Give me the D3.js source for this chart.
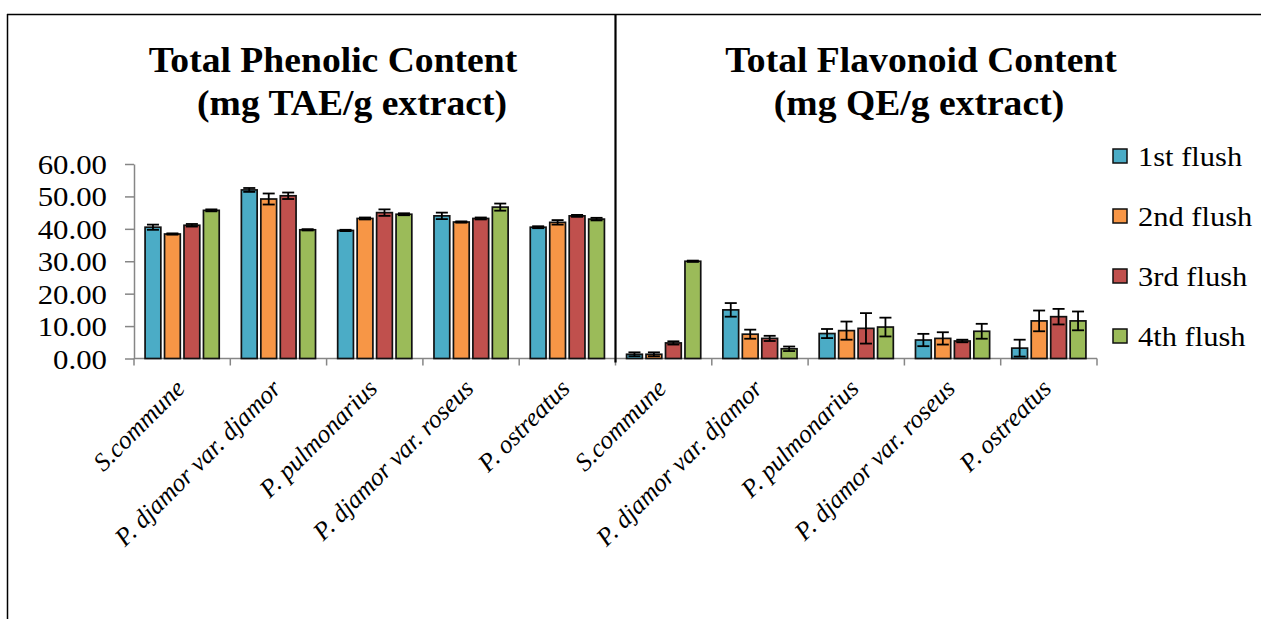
<!DOCTYPE html>
<html>
<head>
<meta charset="utf-8">
<script src="https://cdn.jsdelivr.net/npm/d3@7"></script>
<style>
  html, body { margin: 0; padding: 0; background: #fff; }
  svg { display: block; }
  svg text { font-family: "Liberation Serif", "Times New Roman", serif; }
</style>
</head>
<body>
<svg id="chart" width="1261" height="619"></svg>
<script>
// Mushroom strains, measured over four flushes
const categories = ["S.commune", "P. djamor var. djamor", "P. pulmonarius", "P. djamor var. roseus", "P. ostreatus"];
const seriesNames = ["1st flush", "2nd flush", "3rd flush", "4th flush"];
const seriesColors = ["#4BACC6", "#F79646", "#C0504D", "#9BBB59"];

// Total phenolic content (mg TAE/g extract), one row per strain, one value per flush
const phenolicValues = [
  [40.5, 38.4, 41.1, 45.7],
  [52.0, 49.2, 50.2, 39.7],
  [39.5, 43.2, 45.0, 44.5],
  [44.0, 42.1, 43.2, 46.7],
  [40.5, 42.0, 44.0, 43.0]
];
const phenolicErrors = [
  [0.8, 0.2, 0.4, 0.3],
  [0.6, 1.7, 1.0, 0.2],
  [0.2, 0.3, 1.0, 0.3],
  [1.0, 0.2, 0.3, 1.1],
  [0.3, 0.7, 0.3, 0.4]
];

// Total flavonoid content (mg QE/g extract)
const flavonoidValues = [
  [1.3, 1.3, 4.8, 30.0],
  [15.0, 7.5, 6.2, 3.0],
  [7.7, 8.6, 9.3, 9.7],
  [5.7, 6.2, 5.4, 8.4],
  [3.2, 11.6, 12.9, 11.6]
];
const flavonoidErrors = [
  [0.6, 0.6, 0.5, 0.2],
  [2.1, 1.4, 0.8, 0.7],
  [1.4, 2.8, 4.7, 2.9],
  [1.9, 1.9, 0.4, 2.3],
  [2.6, 3.2, 2.4, 2.9]
];

const yTicks = [0, 10, 20, 30, 40, 50, 60];
const panelTitles = [
  ["Total Phenolic Content", "(mg TAE/g extract)"],
  ["Total Flavonoid Content", "(mg QE/g extract)"]
];

// Both panels share one category axis: five strains for each measurement
const panels = [
  { values: phenolicValues, errors: phenolicErrors },
  { values: flavonoidValues, errors: flavonoidErrors }
];
const rows = [];
panels.forEach((p, pi) => {
  categories.forEach((c, ci) => {
    rows.push({
      key: pi + "|" + ci,
      label: c,
      bars: seriesNames.map((s, si) => ({ series: s, si, value: p.values[ci][si], err: p.errors[ci][si] }))
    });
  });
});

const FONT = "Liberation Serif";
const svg = d3.select("#chart");
const plot = { left: 134, right: 1097, top: 164, bottom: 358.5 };

const pad = 0.23;
const x0 = d3.scaleBand()
  .domain(rows.map(r => r.key))
  .range([plot.left, plot.right])
  .paddingInner(pad)
  .paddingOuter(pad / 2);
const x1 = d3.scaleBand()
  .domain(seriesNames)
  .range([0, x0.bandwidth()])
  .paddingInner(0.19);
const y = d3.scaleLinear().domain([0, 60]).range([plot.bottom, plot.top]);
const color = d3.scaleOrdinal().domain(seriesNames).range(seriesColors);

const axisGray = "#868686";

// Outer frame (top and left edges)
svg.append("line").attr("x1", 7).attr("x2", 1261).attr("y1", 14.5).attr("y2", 14.5)
  .attr("stroke", "#000").attr("stroke-width", 1.5);
svg.append("line").attr("x1", 7.5).attr("x2", 7.5).attr("y1", 14).attr("y2", 619)
  .attr("stroke", "#000").attr("stroke-width", 1.5);

// Titles
const titlePos = [
  [{ cx: 333, y: 72 }, { cx: 352, y: 115 }],
  [{ cx: 921, y: 72 }, { cx: 919, y: 115 }]
];
panelTitles.forEach((lines, pi) => {
  lines.forEach((t, li) => {
    const p = titlePos[pi][li];
    svg.append("text")
      .attr("transform", `translate(${p.cx},${p.y}) scale(1.075,1)`)
      .attr("text-anchor", "middle")
      .attr("font-family", FONT)
      .attr("font-weight", "bold")
      .attr("font-size", 35)
      .attr("fill", "#000")
      .text(t);
  });
});

// Y axis
const yAxis = svg.append("g")
  .attr("transform", `translate(${plot.left},0)`)
  .call(d3.axisLeft(y).tickValues(yTicks).tickFormat(d3.format(".2f")).tickSize(9).tickSizeOuter(0));
yAxis.select(".domain").attr("stroke", axisGray).attr("stroke-width", 1.5);
yAxis.selectAll(".tick line").attr("stroke", axisGray).attr("stroke-width", 1.5);
yAxis.selectAll(".tick text")
  .attr("x", null).attr("dy", null)
  .attr("transform", "translate(-27,9.5) scale(1.1,1)")
  .attr("font-size", 28)
  .attr("font-family", FONT)
  .attr("fill", "#000");

// X axis line and category boundary ticks
svg.append("line")
  .attr("x1", plot.left).attr("x2", plot.right)
  .attr("y1", plot.bottom).attr("y2", plot.bottom)
  .attr("stroke", axisGray).attr("stroke-width", 1.5);
const step = x0.step();
const boundaries = rows.map(r => x0(r.key) - step * pad / 2).concat([plot.right]);
svg.append("g").selectAll("line")
  .data(boundaries)
  .join("line")
  .attr("x1", d => d).attr("x2", d => d)
  .attr("y1", plot.bottom).attr("y2", plot.bottom + 7)
  .attr("stroke", axisGray).attr("stroke-width", 1.5);

// Divider between the two measurements
const divX = boundaries[categories.length];
svg.append("line")
  .attr("x1", divX).attr("x2", divX)
  .attr("y1", 14).attr("y2", plot.bottom + 4)
  .attr("stroke", "#000").attr("stroke-width", 2.2);

// Bars
const groups = svg.append("g").selectAll("g")
  .data(rows)
  .join("g")
  .attr("transform", d => `translate(${x0(d.key)},0)`);

groups.selectAll("rect")
  .data(d => d.bars)
  .join("rect")
  .attr("x", d => x1(d.series))
  .attr("y", d => y(d.value))
  .attr("width", x1.bandwidth())
  .attr("height", d => y(0) - y(d.value))
  .attr("fill", d => color(d.series))
  .attr("stroke", "#111")
  .attr("stroke-width", 1.7);

// Error bars
const capW = 12;
const eb = groups.selectAll("g.err")
  .data(d => d.bars)
  .join("g")
  .attr("class", "err")
  .attr("stroke", "#000")
  .attr("stroke-width", 1.8);
eb.append("line")
  .attr("x1", d => x1(d.series) + x1.bandwidth() / 2)
  .attr("x2", d => x1(d.series) + x1.bandwidth() / 2)
  .attr("y1", d => y(d.value + d.err))
  .attr("y2", d => y(Math.max(0, d.value - d.err)));
eb.append("line")
  .attr("x1", d => x1(d.series) + x1.bandwidth() / 2 - capW / 2)
  .attr("x2", d => x1(d.series) + x1.bandwidth() / 2 + capW / 2)
  .attr("y1", d => y(d.value + d.err))
  .attr("y2", d => y(d.value + d.err));
eb.append("line")
  .attr("x1", d => x1(d.series) + x1.bandwidth() / 2 - capW / 2)
  .attr("x2", d => x1(d.series) + x1.bandwidth() / 2 + capW / 2)
  .attr("y1", d => y(Math.max(0, d.value - d.err)))
  .attr("y2", d => y(Math.max(0, d.value - d.err)));

// Category labels, slanted
svg.append("g").selectAll("text")
  .data(rows)
  .join("text")
  .attr("transform", d => `translate(${x0(d.key) + x0.bandwidth() / 2 + 4},390) rotate(-45)`)
  .attr("text-anchor", "end")
  .attr("font-family", FONT)
  .attr("font-style", "italic")
  .attr("font-size", 25.5)
  .attr("fill", "#000")
  .text(d => d.label);

// Legend
const legend = svg.append("g").selectAll("g")
  .data(seriesNames)
  .join("g")
  .attr("transform", (d, i) => `translate(1113,${156 + i * 60})`);
legend.append("rect")
  .attr("x", 0).attr("y", -7).attr("width", 14).attr("height", 14)
  .attr("fill", d => color(d))
  .attr("stroke", "#111").attr("stroke-width", 1.5);
legend.append("text")
  .attr("transform", "translate(25,10) scale(1.13,1)")
  .attr("font-family", FONT)
  .attr("font-size", 27)
  .attr("fill", "#000")
  .text(d => d);
</script>
</body>
</html>
